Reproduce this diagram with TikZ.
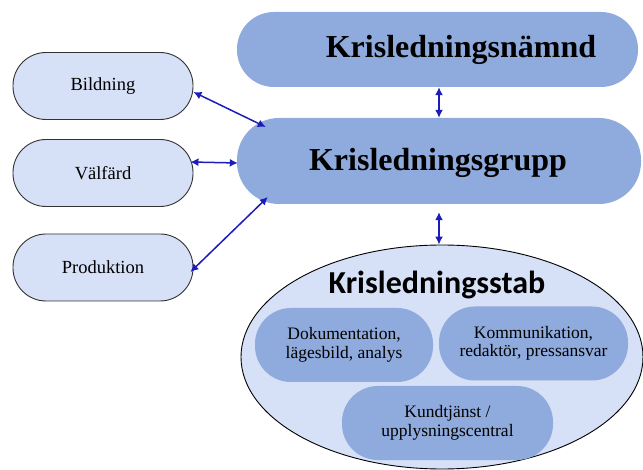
\documentclass[tikz,border=0pt]{standalone}
\usepackage{fontspec}
\setmainfont{Liberation Serif}
\newfontfamily\carl{Carlito}
\usetikzlibrary{arrows.meta,calc,shapes.geometric}
\definecolor{midblue}{HTML}{8FAADC}
\definecolor{paleblue}{HTML}{D6E0F7}
\definecolor{arrblue}{HTML}{1C1CB8}
\tikzset{
  pill/.style={rectangle,inner sep=0pt},
  bigpill/.style={pill,fill=midblue},
  sidepill/.style={pill,fill=paleblue,draw=black!80,line width=0.9pt,minimum width=180pt,minimum height=67pt,rounded corners=33pt,font=\fontsize{18.5}{20}\selectfont},
  innerpill/.style={pill,fill=midblue,minimum height=74pt,rounded corners=36pt,align=center,font=\fontsize{17.5}{18.5}\selectfont},
  bigtext/.style={font=\fontsize{32}{35}\selectfont\bfseries},
  arr/.style={draw=arrblue,line width=1.5pt,{Latex[length=8pt,width=8pt]}-{Latex[length=8pt,width=8pt]}}
}
\begin{document}
\begin{tikzpicture}[x=1pt,y=-1pt]
\useasboundingbox (0,0) rectangle (643,470);
% top
\node[bigpill,minimum width=401pt,minimum height=75pt,rounded corners=37pt] (namnd) at (437.5,49.5) {};
\node[bigtext] (namndtxt) at (461,50) {Krisledningsnämnd};
\node[bigpill,minimum width=404pt,minimum height=86pt,rounded corners=42pt] (grupp) at (439,161) {};
\node[bigtext] (gruppttxt) at (438,163) {Krisledningsgrupp};
% stab
\node[ellipse,draw=black,line width=0.9pt,fill=paleblue,minimum width=402pt,minimum height=224pt,inner sep=0pt] (stab) at (442,357) {};
\node[font=\carl\fontsize{32}{34}\selectfont\bfseries] (stabtxt) at (437,285) {Krisledningsstab};
\node[innerpill,minimum width=178pt] (dok) at (344,345) {Dokumentation,\\ lägesbild, analys};
\node[innerpill,minimum width=189pt] (komm) at (533.5,343.5) {Kommunikation,\\redaktör, pressansvar};
\node[innerpill,minimum width=211pt] (kund) at (447.5,423) {Kundtjänst /\\upplysningscentral};
% left
\node[sidepill] (bild) at (103,86) {Bildning};
\node[sidepill] (valf) at (103,173) {Välfärd};
\node[sidepill] (prod) at (103,267.5) {Produktion};
% arrows
\draw[arr] ([yshift=-6pt]bild.east) -- ([xshift=29pt,yshift=34pt]grupp.west);
\draw[arr] ([xshift=-3pt,yshift=11pt]valf.east) -- ([xshift=1pt,yshift=-2pt]grupp.west);
\draw[arr] ([xshift=-3pt,yshift=-4.5pt]prod.east) -- ([xshift=31pt,yshift=-36pt]grupp.west);
\draw[arr] ([xshift=1.5pt]namnd.south) -- (grupp.north);
\draw[arr] ([yshift=-8pt]grupp.south) -- (stab.north -| grupp.south);
\end{tikzpicture}
\end{document}
